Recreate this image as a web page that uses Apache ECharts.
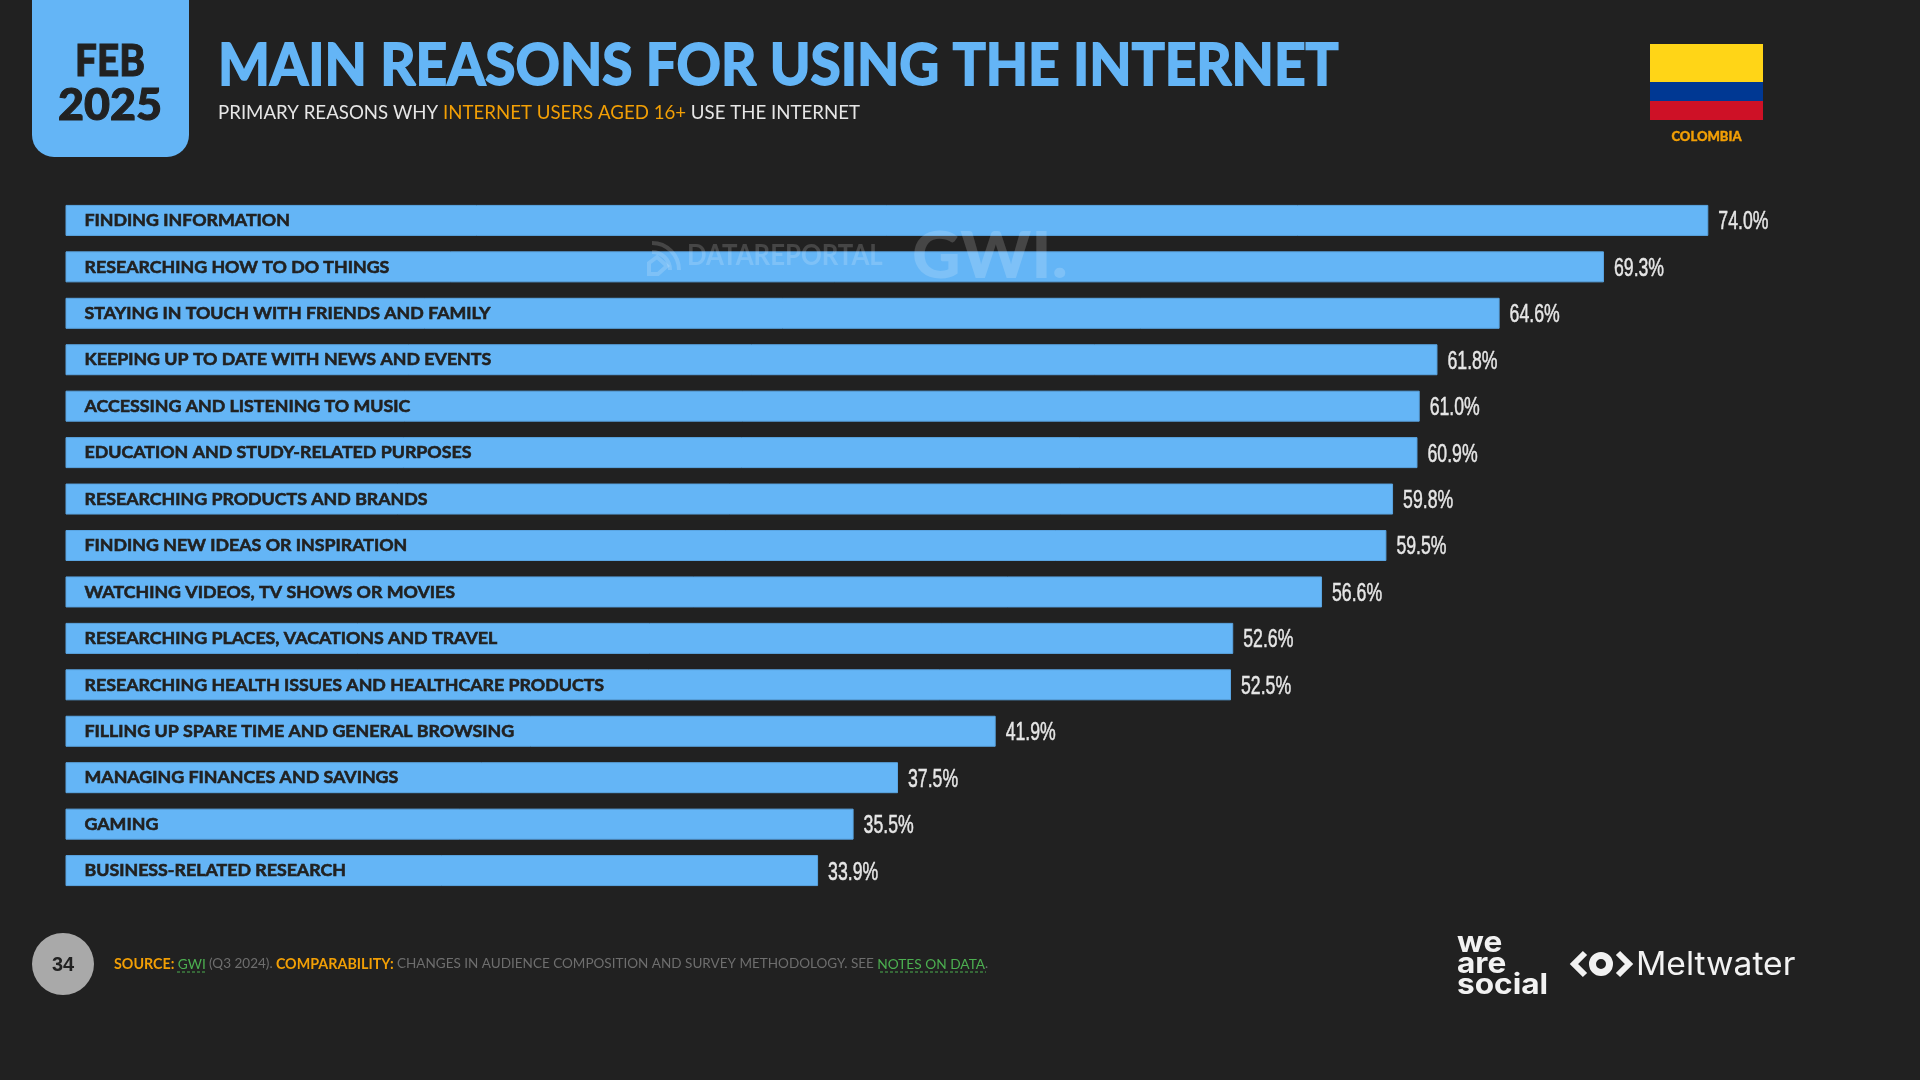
<!DOCTYPE html>
<html><head><meta charset="utf-8">
<style>html,body{margin:0;padding:0;background:#212121}#c{width:1920px;height:1080px}</style>
<script src="https://cdn.jsdelivr.net/npm/echarts@6/dist/echarts.min.js"></script>
</head><body><div id="c"></div>
<script>
const categories = ["FINDING INFORMATION","RESEARCHING HOW TO DO THINGS","STAYING IN TOUCH WITH FRIENDS AND FAMILY","KEEPING UP TO DATE WITH NEWS AND EVENTS","ACCESSING AND LISTENING TO MUSIC","EDUCATION AND STUDY-RELATED PURPOSES","RESEARCHING PRODUCTS AND BRANDS","FINDING NEW IDEAS OR INSPIRATION","WATCHING VIDEOS, TV SHOWS OR MOVIES","RESEARCHING PLACES, VACATIONS AND TRAVEL","RESEARCHING HEALTH ISSUES AND HEALTHCARE PRODUCTS","FILLING UP SPARE TIME AND GENERAL BROWSING","MANAGING FINANCES AND SAVINGS","GAMING","BUSINESS-RELATED RESEARCH"];
const values = [74.0,69.3,64.6,61.8,61.0,60.9,59.8,59.5,56.6,52.6,52.5,41.9,37.5,35.5,33.9];
const BLUE='#64b5f6', BG='#212121', ORANGE='#f29f05', GREEN='#4caf50', WM='rgba(255,255,255,0.17)';
const chart = echarts.init(document.getElementById('c'),null,{renderer:'canvas'});
const txt=(x,y,text,font,fill,align,sx,sw)=>({type:'text',x,y,z:20,scaleX:sx||1,style:{text,font,fill,align:align||'left',verticalAlign:'middle',stroke:sw?fill:null,lineWidth:sw||0}});
const rect=(x,y,w,h,fill,r)=>({type:'rect',z:20,shape:{x,y,width:w,height:h,r:r||0},style:{fill}});
chart.setOption({
  animation:false,
  backgroundColor:BG,
  grid:{left:65.5,top:197.2,width:1776,height:696.6,containLabel:false},
  xAxis:{type:'value',min:0,max:80,show:false},
  yAxis:{type:'category',inverse:true,data:categories,z:10,
    axisLine:{show:false},axisTick:{show:false},splitLine:{show:false},
    axisLabel:{inside:true,margin:19,color:BG,fontFamily:'Lato',fontWeight:'bold',fontSize:17.8,align:'left',padding:[4,0,0,0],textBorderColor:BG,textBorderWidth:0.6}},
  series:[
    {type:'bar',data:values,barWidth:31,itemStyle:{color:BLUE,borderColor:'#5aa5e2',borderWidth:1}},
    {type:'custom',z:5,coordinateSystem:'cartesian2d',encode:{x:0,y:1},
      data:values.map((v,i)=>[v,i]),
      renderItem:(params,api)=>{
        const p=api.coord([api.value(0),api.value(1)]);
        return {type:'text',x:p[0]+10,y:p[1]+1.8,scaleX:0.68,
          style:{text:api.value(0).toFixed(1)+'%',font:'26px "Liberation Sans"',fill:'#e6e6e6',stroke:'#e6e6e6',lineWidth:0.5,align:'left',verticalAlign:'middle'}};
      }}
  ],
  graphic:{elements:[
    rect(32,-30,157,187,BLUE,[22,22,22,22]),
    txt(110,62,'FEB','900 44px Lato',BG,'center',0.88,1),
    txt(110,106,'2025','900 44px Lato',BG,'center',1.02,1),
    txt(218,66,'MAIN REASONS FOR USING THE INTERNET','bold 58px Lato',BLUE,'left',0.948,1.8),
    {type:'text',x:218,y:113,z:20,scaleX:0.933,style:{verticalAlign:'middle',rich:{w:{fill:'#e6e6e6',font:'20px Lato'},o:{fill:ORANGE,font:'20px Lato'}},text:'{w|PRIMARY REASONS WHY }{o|INTERNET USERS AGED 16+}{w| USE THE INTERNET}'}},
    rect(1650,44,113,38,'#ffd517'),rect(1650,82,113,19,'#003893'),rect(1650,101,113,19,'#ce1126'),
    txt(1706.5,137,'COLOMBIA','900 13px Lato',ORANGE,'center',1,0.4),
    // watermark
    {type:'arc',z:20,shape:{cx:652,cy:270,r:27,startAngle:-Math.PI/2,endAngle:0},style:{stroke:WM,fill:null,lineWidth:4}},
    {type:'arc',z:20,shape:{cx:652,cy:270,r:18,startAngle:-Math.PI/2,endAngle:0},style:{stroke:WM,fill:null,lineWidth:4}},
    {type:'polygon',z:20,shape:{points:[[649,263],[657,257],[667,266],[658,274],[649,274]]},style:{stroke:WM,fill:null,lineWidth:4}},
    txt(687,255.5,'DATAREPORTAL','bold 28px Lato',WM,'left',0.92),
    txt(912,257,'GWI.','900 64px Lato',WM,'left',1.05),
    // footer
    {type:'circle',z:20,shape:{cx:63,cy:964,r:31},style:{fill:'#a9a9a9'}},
    txt(63,965,'34','bold 20px "Liberation Sans"',BG,'center'),
    {type:'text',x:114,y:964,z:20,scaleX:0.98,style:{verticalAlign:'middle',rich:{o:{fill:ORANGE,font:'bold 14.6px Lato'},g:{fill:'#6e6e6e',font:'13.8px Lato'},l:{fill:GREEN,font:'14px Lato'}},text:'{o|SOURCE:} {l|GWI} {g|(Q3 2024).} {o|COMPARABILITY:} {g|CHANGES IN AUDIENCE COMPOSITION AND SURVEY METHODOLOGY. SEE} {l|NOTES ON DATA}{g|.}'}},
    {type:'line',z:20,shape:{x1:177,y1:972,x2:206,y2:972},style:{stroke:GREEN,lineWidth:1,lineDash:[3,2]}},
    {type:'line',z:20,shape:{x1:880,y1:972,x2:986,y2:972},style:{stroke:GREEN,lineWidth:1,lineDash:[3,2]}},
    // logos
    txt(1457,943,'we','bold 29px Inter','#f2f2f2','left',1.09),
    txt(1457,964,'are','bold 29px Inter','#f2f2f2','left',1.09),
    txt(1457,985,'social','bold 29px Inter','#f2f2f2','left',1.09),
    {type:'polyline',z:20,shape:{points:[[1585,953],[1574,964],[1585,975]]},style:{stroke:'#f2f2f2',fill:null,lineWidth:6}},
    {type:'polyline',z:20,shape:{points:[[1618,953],[1629,964],[1618,975]]},style:{stroke:'#f2f2f2',fill:null,lineWidth:6}},
    {type:'circle',z:20,shape:{cx:1601,cy:964,r:8.5},style:{stroke:'#f2f2f2',fill:null,lineWidth:7}},
    txt(1636,965,'Meltwater','400 32px Inter','#f2f2f2','left',1.05)
  ]}
});
</script></body></html>
